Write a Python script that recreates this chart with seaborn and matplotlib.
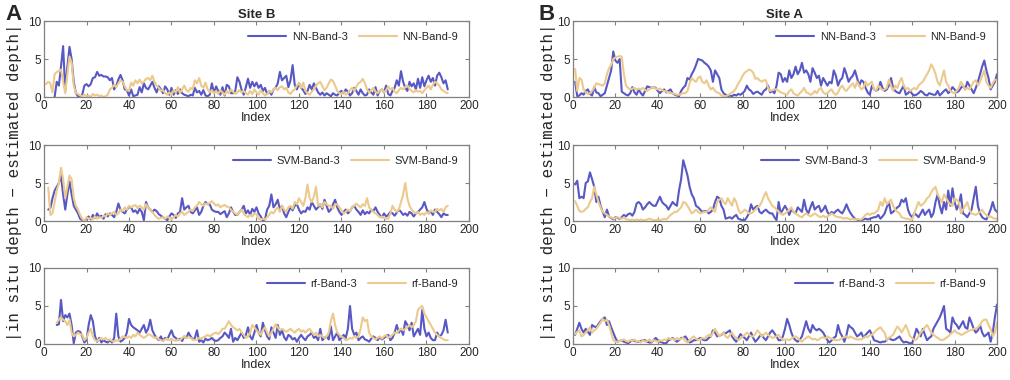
import numpy as np
import pandas as pd
import matplotlib
matplotlib.use("Agg")
import matplotlib.pyplot as plt
import seaborn as sns

nan = np.nan

# ---------------- data ----------------
index_B = list(range(1, 191))
index_A = list(range(1, 201))

# Site B
nn3_B = [nan, nan, nan, nan, 0.0, 2.0, 1.5, 4.0, 6.7, 0.8,
         4.0, 6.6, 5.0, 2.0, 0.5, 0.1, 0.0, 0.3, 1.5, 1.7,
         1.4, 1.7, 2.5, 2.6, 3.3, 2.8, 2.9, 2.7, 2.7, 2.6,
         2.2, 2.5, 1.0, 1.5, 2.3, 2.9, 2.2, 1.0, 0.9, 0.2,
         1.0, 0.1, 0.2, 0.3, 1.3, 0.6, 1.8, 1.2, 1.0, 1.5,
         2.0, 1.2, 0.6, 1.4, 1.0, 0.5, 1.4, 1.0, 0.3, 1.2,
         0.3, 0.9, 0.4, 1.0, 0.5, 0.3, 0.2, 0.1, 0.3, 0.2,
         1.2, 0.6, 0.8, 0.3, 0.9, 0.2, 0.1, 0.3, 1.8, 0.5,
         1.4, 0.8, 0.3, 1.3, 0.2, 1.6, 1.4, 0.5, 0.5, 0.8,
         2.6, 2.0, 0.9, 0.3, 1.3, 2.4, 1.2, 2.0, 1.4, 1.9,
         1.2, 1.6, 0.8, 1.2, 0.4, 0.8, 0.3, 1.0, 1.2, 1.8,
         3.3, 2.2, 2.5, 2.8, 1.3, 2.2, 4.2, 1.6, 1.0, 1.8,
         1.2, 0.9, 0.4, 0.8, 1.6, 1.0, 1.8, 1.2, 0.6, 0.3,
         0.6, 0.2, 0.5, 0.3, 0.1, 0.5, 0.3, 0.2, 0.6, 0.8,
         0.5, 1.0, 0.7, 0.2, 0.5, 1.2, 0.8, 0.3, 1.0, 0.5,
         0.2, 0.3, 1.0, 0.6, 0.3, 1.3, 0.2, 0.8, 1.0, 0.6,
         1.5, 0.4, 0.2, 0.8, 1.2, 2.2, 1.5, 3.4, 2.0, 1.2,
         0.8, 2.0, 1.4, 1.8, 1.0, 2.4, 1.2, 2.6, 1.4, 2.2,
         2.8, 2.0, 2.5, 1.5, 2.8, 3.2, 2.6, 1.8, 2.2, 1.0]
nn9_B = [1.7, 2.0, 1.8, 0.6, 3.0, 3.3, 3.4, 3.6, 2.0, 0.5,
         3.0, 5.3, 4.5, 1.5, 0.5, 0.4, 0.2, 0.1, 0.3, 0.1,
         0.2, 0.0, 0.4, 0.2, 0.3, 0.1, 0.2, 0.0, 0.1, 0.3,
         1.0, 1.2, 1.6, 1.3, 1.8, 2.2, 2.0, 1.4, 0.9, 0.8,
         1.9, 1.5, 2.2, 1.8, 2.3, 1.8, 2.0, 2.4, 2.5, 2.2,
         2.8, 2.0, 1.5, 1.2, 0.8, 0.9, 0.5, 0.3, 0.6, 0.3,
         0.9, 0.6, 1.3, 0.5, 1.0, 1.5, 0.9, 0.7, 1.2, 1.0,
         2.2, 1.8, 2.5, 1.5, 1.2, 1.9, 1.0, 0.6, 0.9, 0.5,
         0.8, 0.4, 0.9, 0.6, 0.3, 0.8, 0.5, 1.0, 0.7, 0.4,
         0.6, 0.9, 0.6, 0.8, 0.5, 0.3, 0.8, 0.4, 1.0, 0.6,
         0.3, 0.9, 0.5, 0.2, 0.4, 0.8, 0.6, 1.0, 1.2, 0.9,
         1.3, 1.4, 1.0, 1.2, 0.6, 0.4, 0.8, 1.0, 1.5, 1.8,
         1.2, 1.9, 0.8, 0.5, 0.3, 0.7, 1.0, 1.5, 1.8, 2.0,
         1.4, 0.9, 1.2, 1.8, 2.3, 2.1, 1.5, 0.8, 0.5, 0.4,
         0.7, 0.3, 0.5, 0.9, 1.2, 0.8, 1.4, 1.8, 2.0, 2.4,
         1.8, 1.0, 0.6, 0.9, 1.2, 0.7, 0.5, 0.8, 1.0, 0.6,
         0.9, 1.4, 1.0, 1.2, 0.7, 0.5, 0.9, 1.2, 1.0, 1.3,
         1.5, 1.1, 0.8, 0.6, 0.9, 0.7, 0.8, 0.5, 0.9, 1.2,
         1.5, 1.0, 1.6, 2.0, 1.8, 1.5, 1.0, 0.8, 0.6, 0.5]
svm3_B = [nan, 1.5, 1.7, 3.0, 4.0, 4.5, 5.0, 6.0, 3.5, 1.5,
          3.5, 5.2, 3.5, 2.0, 1.5, 1.0, 0.3, 0.1, 0.0, 0.3,
          0.6, 0.2, 0.8, 0.4, 1.0, 0.5, 0.7, 0.3, 0.9, 0.6,
          1.0, 0.8, 0.5, 1.2, 2.3, 1.5, 1.2, 1.0, 1.5, 1.8,
          1.8, 1.2, 1.4, 1.0, 1.6, 1.2, 0.1, 2.5, 1.8, 1.5,
          1.2, 1.5, 1.3, 0.9, 0.7, 0.5, 0.3, 0.1, 0.6, 1.0,
          0.8, 0.4, 1.0, 1.2, 3.0, 1.5, 1.8, 2.0, 1.2, 1.0,
          1.4, 1.8, 0.8, 1.2, 2.0, 2.5, 2.2, 2.2, 1.5, 1.3,
          1.2, 1.2, 0.9, 1.1, 1.3, 0.5, 1.0, 1.8, 1.2, 0.8,
          0.8, 1.2, 1.5, 2.0, 1.0, 1.4, 0.8, 1.6, 1.2, 1.8,
          1.0, 0.6, 0.1, 0.2, 1.5, 2.0, 3.5, 1.8, 2.2, 2.8,
          1.5, 2.0, 1.0, 0.5, 1.2, 1.8, 1.4, 2.0, 2.2, 1.5,
          1.0, 1.3, 1.2, 1.8, 1.5, 2.5, 2.0, 1.5, 1.8, 2.2,
          1.6, 2.8, 2.0, 1.2, 1.5, 2.2, 2.8, 1.8, 1.2, 0.8,
          1.2, 1.5, 1.0, 1.3, 1.8, 2.0, 1.5, 1.2, 0.8, 1.4,
          0.9, 1.2, 1.0, 1.5, 1.3, 1.8, 1.2, 0.8, 0.5, 1.0,
          0.6, 0.8, 1.2, 1.0, 0.7, 1.1, 1.5, 1.2, 0.8, 1.0,
          0.7, 1.2, 1.0, 0.6, 1.0, 1.2, 1.5, 1.8, 2.5, 1.6,
          1.0, 1.3, 0.8, 1.5, 1.2, 0.9, 0.5, 1.0, 0.8, 0.8]
svm9_B = [nan, 4.4, 0.8, 1.0, 2.5, 4.0, 5.0, 7.0, 5.5, 3.0,
          4.5, 6.0, 5.5, 3.0, 2.0, 1.5, 0.8, 0.3, 0.0, 0.5,
          0.3, 0.4, 0.2, 0.6, 0.3, 0.5, 0.4, 0.7, 0.6, 1.0,
          0.8, 1.0, 1.2, 0.8, 1.0, 1.5, 1.3, 1.8, 1.5, 2.0,
          1.8, 2.0, 2.1, 1.7, 2.0, 1.8, 1.5, 2.2, 1.8, 1.5,
          1.2, 0.8, 0.5, 0.3, 0.4, 0.5, 0.3, 0.6, 0.4, 0.2,
          0.5, 0.8, 0.6, 1.0, 1.2, 0.8, 1.0, 1.2, 1.5, 1.3,
          1.8, 2.0, 2.5, 2.2, 2.0, 2.3, 2.2, 2.4, 2.6, 2.3,
          2.0, 2.2, 1.8, 2.0, 2.1, 1.9, 1.8, 1.5, 1.2, 1.0,
          0.8, 1.2, 1.5, 1.0, 0.7, 0.5, 0.8, 0.6, 1.0, 0.9,
          0.3, 0.2, 0.3, 0.2, 0.5, 0.8, 1.2, 1.0, 1.5, 1.8,
          1.2, 2.0, 1.5, 1.2, 1.8, 2.0, 1.6, 2.5, 2.2, 3.0,
          2.5, 2.0, 3.0, 4.8, 3.0, 2.5, 3.2, 4.5, 2.0, 2.2,
          1.8, 2.5, 2.2, 2.0, 2.0, 1.6, 2.2, 2.2, 1.8, 1.4,
          1.0, 1.2, 1.5, 1.3, 1.8, 2.0, 2.3, 2.0, 1.8, 2.2,
          2.0, 3.0, 1.8, 1.5, 1.2, 1.0, 0.8, 0.5, 0.6, 0.4,
          0.3, 0.3, 1.0, 2.0, 1.5, 1.2, 1.5, 2.5, 3.5, 5.0,
          3.0, 2.0, 1.5, 1.2, 1.0, 1.2, 0.8, 1.0, 0.8, 1.2,
          1.0, 1.4, 1.2, 1.2, 1.6, 1.4, 1.6, 1.2, 1.8, 2.0]
rf3_B = [nan, nan, nan, nan, nan, 2.5, 2.6, 5.8, 3.0, 3.8,
         3.5, 4.0, 2.5, 0.1, 1.5, 1.7, 1.6, 1.0, 0.2, 0.5,
         2.5, 3.8, 3.0, 1.0, 0.3, 0.8, 0.2, 0.5, 0.3, 0.2,
         0.5, 0.2, 0.8, 4.0, 1.0, 0.3, 0.5, 0.8, 1.5, 3.3,
         2.5, 2.2, 2.0, 1.8, 1.5, 2.0, 2.5, 1.5, 2.0, 3.2,
         1.8, 1.2, 0.8, 0.5, 1.0, 0.4, 0.8, 0.6, 1.2, 1.8,
         1.0, 0.8, 0.5, 0.7, 0.4, 1.0, 0.8, 1.5, 1.0, 0.6,
         0.8, 1.8, 0.3, 0.5, 0.2, 0.7, 0.5, 0.6, 0.8, 0.5,
         0.4, 0.5, 0.8, 1.0, 1.5, 1.2, 0.8, 2.0, 0.3, 0.8,
         0.5, 1.0, 1.5, 0.8, 1.2, 2.2, 1.0, 0.6, 1.5, 2.5,
         1.5, 1.0, 2.8, 1.8, 1.0, 0.6, 2.2, 1.5, 0.8, 2.5,
         1.2, 1.8, 0.9, 0.5, 1.2, 1.0, 0.6, 0.8, 0.3, 0.8,
         1.2, 0.8, 0.5, 1.0, 1.2, 1.5, 0.8, 1.0, 0.5, 2.0,
         0.5, 0.8, 1.0, 0.6, 2.3, 0.5, 1.0, 1.5, 0.5, 0.8,
         1.2, 0.8, 2.0, 5.0, 2.0, 1.2, 1.5, 0.5, 0.8, 1.0,
         0.6, 0.5, 0.3, 0.7, 1.0, 0.8, 0.5, 0.9, 0.6, 0.8,
         1.0, 1.2, 0.5, 0.8, 1.5, 2.5, 1.5, 2.0, 1.2, 3.0,
         2.5, 1.8, 2.8, 1.0, 1.5, 2.0, 1.2, 4.5, 2.0, 1.0,
         1.5, 0.8, 0.5, 0.5, 1.5, 1.0, 1.2, 1.8, 3.2, 1.5]
rf9_B = [nan, nan, nan, nan, nan, 2.8, 3.2, 3.5, 3.2, 3.0,
         2.5, 3.2, 1.5, 1.0, 1.2, 1.5, 1.3, 1.2, 0.5, 0.8,
         1.5, 2.0, 1.0, 0.5, 0.4, 0.6, 0.8, 0.6, 0.8, 0.5,
         0.6, 0.4, 0.3, 0.5, 0.4, 0.7, 1.0, 0.9, 0.8, 1.0,
         0.8, 1.2, 1.0, 1.5, 1.2, 1.0, 0.8, 1.0, 1.3, 1.2,
         1.0, 0.8, 0.9, 0.6, 0.5, 0.4, 0.6, 0.7, 0.5, 0.7,
         0.5, 0.4, 0.6, 0.5, 0.8, 1.0, 0.8, 0.9, 0.8, 0.6,
         0.5, 0.6, 0.8, 0.7, 0.9, 1.0, 1.2, 1.0, 1.2, 1.4,
         1.5, 1.3, 1.6, 2.0, 2.0, 2.5, 3.0, 2.5, 2.2, 2.0,
         1.8, 2.0, 1.5, 1.2, 0.8, 1.0, 1.5, 2.5, 2.2, 1.8,
         1.5, 1.2, 1.8, 2.2, 1.5, 1.0, 1.5, 2.0, 2.6, 2.2,
         1.8, 2.0, 1.8, 1.6, 1.8, 2.0, 1.7, 1.5, 1.8, 2.0,
         1.6, 1.8, 1.5, 1.8, 2.0, 1.6, 1.2, 1.5, 1.0, 1.2,
         1.0, 0.8, 1.0, 1.5, 3.0, 4.0, 2.5, 1.5, 1.2, 1.0,
         0.8, 0.5, 0.6, 0.8, 0.7, 1.0, 0.8, 1.0, 2.0, 3.5,
         3.0, 3.2, 1.5, 1.0, 0.8, 0.6, 0.8, 1.0, 0.7, 1.0,
         1.2, 0.8, 1.0, 1.2, 1.5, 1.4, 1.8, 2.0, 1.8, 2.0,
         2.2, 2.5, 2.2, 2.5, 3.0, 4.5, 4.8, 5.0, 4.0, 3.5,
         3.0, 2.5, 2.0, 1.5, 1.2, 1.0, 0.8, 0.6, 0.5, 0.5]

# Site A
nn3_A = [2.0, 0.1, 0.2, 0.5, 0.3, 0.8, 1.0, 0.4, 0.2, 1.3,
         0.6, 0.5, 0.1, 0.3, 0.5, 1.5, 2.5, 3.5, 6.0, 4.8,
         4.5, 5.0, 0.7, 0.5, 0.3, 0.2, 0.5, 1.3, 0.6, 0.3,
         1.0, 0.5, 0.2, 0.8, 1.4, 1.3, 1.2, 1.3, 1.2, 0.8,
         0.5, 0.8, 1.0, 0.6, 0.8, 1.0, 0.5, 0.3, 0.2, 0.1,
         0.8, 1.2, 1.5, 2.5, 2.3, 3.0, 3.5, 4.2, 5.0, 4.9,
         4.8, 4.5, 4.3, 4.0, 3.5, 2.0, 3.5, 3.0, 2.5, 1.0,
         0.5, 0.3, 0.1, 0.2, 0.1, 0.3, 0.2, 0.4, 0.3, 0.5,
         0.8, 1.5, 1.0, 0.8, 0.4, 0.6, 0.7, 0.5, 0.3, 0.8,
         1.0, 1.5, 0.6, 0.8, 0.5, 1.5, 3.2, 3.0, 2.0, 2.5,
         2.0, 3.5, 2.5, 3.0, 4.0, 3.0, 3.5, 4.5, 3.2, 3.5,
         3.0, 2.0, 3.8, 3.2, 2.5, 2.8, 1.5, 2.5, 2.0, 1.5,
         2.0, 1.8, 3.5, 2.8, 1.5, 2.2, 2.5, 3.8, 3.0, 2.0,
         2.5, 2.8, 3.5, 2.5, 1.5, 2.2, 2.0, 1.2, 0.6, 0.3,
         1.5, 1.0, 0.8, 1.0, 2.0, 1.2, 0.8, 1.0, 1.5, 2.5,
         1.2, 0.8, 0.6, 0.5, 1.0, 1.5, 0.3, 0.5, 0.8, 0.4,
         0.2, 0.3, 0.5, 0.8, 0.6, 0.3, 0.2, 0.5, 0.4, 0.3,
         0.3, 0.8, 0.2, 0.5, 0.8, 1.0, 0.5, 0.8, 1.3, 1.0,
         0.6, 0.8, 1.2, 1.5, 1.0, 2.0, 1.5, 1.0, 0.5, 1.2,
         2.0, 3.0, 4.0, 4.8, 3.5, 2.5, 1.0, 1.5, 2.0, 3.0]
nn9_A = [3.7, 0.8, 2.5, 2.3, 1.0, 0.6, 0.4, 0.5, 0.8, 1.2,
         1.8, 1.7, 1.6, 1.5, 1.8, 3.0, 3.8, 4.2, 5.0, 5.2,
         5.3, 5.4, 5.3, 3.0, 1.5, 1.2, 1.0, 1.1, 1.2, 1.0,
         1.1, 1.0, 1.2, 0.9, 0.8, 1.0, 1.2, 1.3, 1.1, 1.0,
         1.1, 0.9, 0.8, 0.7, 0.6, 0.5, 0.5, 0.4, 0.3, 0.3,
         0.4, 0.5, 0.5, 0.8, 1.8, 2.5, 2.2, 2.0, 2.5, 2.7,
         2.0, 1.8, 2.2, 1.5, 1.0, 1.2, 0.8, 0.6, 0.5, 0.2,
         0.1, 0.1, 0.2, 0.4, 0.6, 0.8, 1.2, 1.8, 2.2, 2.8,
         3.2, 3.4, 3.6, 3.5, 3.2, 2.4, 2.5, 2.2, 2.0, 2.2,
         2.2, 1.2, 0.8, 0.9, 1.0, 1.0, 0.8, 0.6, 0.5, 0.4,
         0.3, 0.8, 1.0, 0.5, 0.3, 0.2, 0.5, 0.8, 1.2, 0.6,
         0.5, 0.3, 0.4, 0.8, 0.5, 1.0, 1.2, 0.6, 0.4, 0.5,
         0.8, 1.0, 0.5, 0.3, 0.6, 1.2, 1.5, 1.0, 0.8, 1.2,
         1.5, 1.8, 1.2, 2.0, 1.5, 1.0, 1.2, 2.0, 1.5, 1.8,
         2.0, 1.0, 0.8, 1.5, 1.2, 0.9, 1.0, 1.2, 2.3, 1.5,
         0.8, 1.5, 1.2, 2.0, 2.5, 1.5, 1.0, 1.2, 0.8, 1.0,
         1.2, 1.0, 1.5, 1.8, 2.0, 2.5, 3.0, 3.5, 4.3, 3.8,
         3.0, 2.0, 1.5, 2.5, 3.5, 2.0, 1.5, 0.8, 0.6, 0.5,
         0.8, 1.2, 2.0, 1.5, 1.0, 1.2, 1.0, 1.5, 2.0, 2.2,
         1.5, 2.0, 2.8, 3.5, 2.0, 1.5, 1.2, 1.8, 2.3, 2.2]
svm3_A = [4.8, 5.3, 3.0, 3.2, 3.0, 5.0, 5.2, 6.4, 5.5, 4.5,
          2.5, 3.2, 2.0, 1.2, 0.5, 1.5, 0.6, 0.4, 0.2, 0.5,
          0.4, 0.3, 0.5, 0.8, 0.6, 0.9, 1.0, 0.7, 1.2, 2.3,
          2.5, 2.2, 1.5, 1.8, 2.2, 2.5, 2.2, 2.0, 2.0, 2.6,
          3.2, 2.5, 2.2, 2.0, 1.5, 2.0, 2.5, 2.2, 2.0, 4.0,
          5.5, 8.0, 7.0, 6.0, 4.5, 3.5, 3.0, 2.0, 1.8, 1.5,
          1.2, 1.3, 1.3, 1.0, 1.2, 1.5, 2.5, 3.2, 3.0, 2.0,
          1.5, 0.3, 0.4, 0.5, 0.3, 0.6, 0.8, 0.3, 0.2, 0.1,
          0.1, 0.5, 1.0, 2.2, 1.5, 1.8, 2.0, 1.2, 1.0, 1.3,
          1.5, 1.2, 1.0, 1.0, 0.5, 0.1, 2.5, 1.0, 1.5, 2.0,
          1.5, 0.8, 1.5, 1.2, 1.0, 1.8, 1.5, 1.2, 2.8, 1.5,
          1.0, 1.8, 2.5, 1.5, 1.8, 2.0, 1.2, 1.5, 2.0, 1.2,
          0.8, 1.2, 1.0, 1.3, 1.5, 1.2, 1.0, 1.5, 2.2, 1.5,
          1.0, 0.6, 0.3, 0.2, 0.1, 0.1, 0.2, 0.3, 0.2, 0.3,
          0.4, 0.5, 0.5, 0.8, 0.3, 0.6, 1.0, 1.8, 2.5, 1.0,
          1.2, 1.5, 1.8, 2.0, 2.8, 2.5, 3.0, 1.5, 0.8, 0.5,
          1.0, 0.8, 0.5, 1.0, 1.5, 0.8, 1.2, 1.5, 0.5, 1.0,
          2.5, 3.5, 2.0, 1.0, 2.5, 1.5, 4.0, 2.0, 4.3, 2.5,
          1.5, 2.2, 3.5, 1.0, 0.8, 0.5, 1.0, 1.5, 3.0, 4.5,
          2.0, 1.0, 0.5, 0.3, 0.2, 0.8, 1.5, 2.5, 1.5, 1.2]
svm9_A = [2.6, 2.0, 1.3, 1.2, 1.3, 1.6, 1.8, 2.5, 3.0, 4.5,
          3.5, 2.5, 1.8, 1.2, 1.0, 0.8, 0.6, 0.5, 0.3, 0.4,
          0.5, 0.4, 0.3, 0.5, 0.2, 0.2, 0.1, 0.2, 0.1, 0.2,
          0.1, 0.2, 0.1, 0.1, 0.2, 0.3, 0.2, 0.1, 0.1, 0.2,
          0.1, 0.2, 0.3, 0.2, 0.5, 0.8, 1.0, 1.2, 1.2, 1.5,
          1.8, 2.5, 2.4, 2.0, 1.5, 1.0, 1.2, 1.5, 1.2, 1.0,
          1.1, 1.2, 1.2, 1.5, 1.8, 1.5, 1.2, 2.5, 2.8, 3.0,
          2.5, 2.2, 3.0, 2.5, 2.0, 3.0, 2.5, 1.5, 1.0, 1.2,
          1.5, 1.3, 1.0, 1.0, 1.2, 1.5, 1.8, 2.0, 2.5, 3.2,
          3.8, 3.0, 2.5, 2.0, 1.8, 1.5, 1.2, 1.0, 0.8, 1.0,
          1.2, 1.5, 1.8, 1.2, 1.0, 0.8, 0.6, 0.5, 0.8, 1.0,
          0.8, 0.6, 0.8, 1.0, 0.8, 0.6, 0.5, 0.7, 0.5, 0.6,
          0.8, 1.0, 0.8, 0.6, 0.5, 0.5, 0.4, 0.3, 0.4, 0.3,
          0.2, 0.3, 0.2, 0.3, 0.2, 0.2, 0.5, 0.8, 1.0, 0.8,
          1.0, 1.0, 1.2, 1.5, 2.5, 2.0, 3.0, 2.2, 2.5, 2.8,
          2.0, 1.5, 1.2, 1.0, 0.5, 0.4, 0.3, 0.3, 0.2, 0.2,
          1.0, 1.8, 2.5, 2.0, 2.2, 2.5, 3.0, 3.2, 3.8, 4.2,
          4.5, 3.5, 3.0, 2.5, 3.5, 3.0, 2.5, 2.2, 2.0, 3.0,
          2.8, 2.5, 1.0, 1.5, 2.0, 2.5, 1.5, 1.0, 0.9, 0.8,
          1.0, 1.2, 1.5, 1.0, 0.8, 0.5, 0.6, 0.4, 0.3, 0.3]
rf3_A = [1.2, 2.0, 2.8, 2.0, 1.5, 2.0, 1.6, 1.2, 2.5, 2.3,
         2.2, 2.6, 3.0, 3.3, 3.5, 2.5, 3.0, 2.2, 1.5, 0.8,
         0.3, 0.4, 0.5, 0.3, 0.2, 0.1, 0.3, 0.5, 0.4, 0.3,
         0.3, 0.4, 0.5, 0.5, 0.3, 0.2, 0.2, 0.5, 0.8, 0.5,
         0.3, 0.2, 0.1, 0.1, 0.5, 0.6, 0.8, 0.5, 0.3, 0.5,
         0.8, 0.8, 1.0, 0.6, 0.2, 0.3, 0.5, 0.5, 0.6, 0.8,
         0.6, 0.5, 0.5, 0.8, 1.0, 1.8, 1.5, 1.0, 1.1, 1.2,
         1.5, 1.4, 1.6, 1.8, 1.0, 0.6, 0.3, 0.8, 1.3, 1.0,
         0.8, 0.5, 1.0, 1.5, 0.8, 0.3, 0.6, 1.0, 1.2, 0.8,
         0.5, 1.0, 1.5, 1.8, 1.4, 1.0, 0.5, 0.5, 1.0, 2.0,
         3.3, 2.5, 1.5, 0.8, 0.5, 0.3, 0.6, 1.0, 2.0, 3.0,
         2.0, 1.5, 2.5, 2.0, 1.8, 2.0, 1.8, 1.5, 1.0, 0.5,
         0.2, 0.5, 0.8, 1.0, 2.5, 1.5, 1.0, 0.3, 1.2, 2.5,
         2.2, 2.0, 1.5, 1.0, 1.2, 1.5, 0.8, 1.2, 1.5, 1.8,
         1.2, 0.5, 0.4, 0.3, 0.2, 0.3, 0.3, 0.5, 0.8, 0.6,
         0.5, 0.6, 0.8, 1.0, 0.5, 0.2, 0.3, 0.2, 0.1, 0.1,
         1.0, 2.0, 1.5, 1.0, 2.0, 1.2, 0.5, 0.8, 1.0, 2.0,
         2.5, 3.0, 3.5, 4.2, 5.0, 2.0, 1.8, 1.5, 3.5, 2.8,
         2.5, 2.0, 2.5, 3.0, 2.2, 2.0, 3.5, 2.8, 2.0, 1.5,
         1.8, 2.5, 1.5, 1.0, 1.2, 1.5, 0.3, 1.5, 3.5, 5.2]
rf9_A = [1.3, 1.6, 1.8, 1.0, 1.2, 1.5, 1.8, 2.2, 1.5, 1.8,
         2.0, 2.4, 2.8, 3.3, 3.0, 3.2, 2.5, 1.5, 0.5, 0.3,
         0.3, 0.4, 0.5, 0.6, 0.4, 0.3, 0.5, 0.4, 0.6, 0.3,
         0.4, 0.2, 0.5, 0.3, 0.4, 0.6, 0.3, 0.5, 0.4, 0.3,
         0.5, 0.4, 0.6, 0.5, 0.8, 0.6, 0.7, 0.5, 0.8, 0.6,
         0.7, 0.8, 0.4, 0.2, 0.5, 0.8, 1.0, 0.7, 0.5, 0.6,
         0.8, 0.7, 1.0, 1.2, 1.0, 1.5, 2.0, 1.5, 1.0, 1.3,
         1.5, 1.0, 0.8, 1.2, 1.5, 1.0, 0.8, 0.5, 0.7, 1.0,
         1.2, 1.5, 1.3, 1.0, 1.0, 1.3, 1.8, 1.5, 1.0, 1.2,
         1.5, 1.2, 1.0, 0.8, 0.9, 1.0, 1.2, 0.8, 0.5, 0.6,
         0.6, 0.5, 0.7, 0.9, 1.0, 0.8, 0.5, 0.3, 0.6, 0.8,
         1.0, 0.8, 0.6, 0.7, 0.5, 0.6, 0.8, 0.9, 0.7, 1.0,
         0.8, 0.7, 0.6, 0.5, 0.5, 0.6, 0.8, 0.9, 1.0, 0.8,
         1.0, 0.8, 0.7, 0.6, 0.6, 0.6, 0.8, 1.0, 0.9, 1.2,
         1.2, 1.5, 1.8, 2.0, 2.2, 1.8, 1.5, 0.5, 0.8, 1.0,
         1.2, 1.8, 2.3, 2.0, 1.5, 2.0, 2.5, 1.8, 1.0, 0.8,
         0.5, 0.6, 1.0, 1.5, 1.8, 2.2, 2.5, 2.0, 1.5, 1.2,
         1.0, 0.8, 0.6, 0.5, 0.6, 0.8, 1.0, 1.3, 1.5, 1.8,
         1.5, 1.4, 1.2, 1.3, 1.5, 1.6, 1.8, 1.8, 2.0, 2.0,
         2.2, 2.5, 3.0, 3.2, 3.2, 2.5, 2.0, 1.0, 1.5, 2.8]

x_ticks = list(range(0, 201, 20))
y_ticks = [0, 5, 10]
site_titles = ["Site B", "Site A"]
panel_letters = ["A", "B"]
y_label = "|in situ depth \u2212 estimated depth|"

# ---------------- style ----------------
sns.set_style("white")
plt.rcParams['font.family'] = ['Liberation Sans', 'DejaVu Sans']

BLUE = '#5858C4'
TAN = '#ECC98C'
SPINE = '#808080'

W, H = 1010, 380
fig = plt.figure(figsize=(W / 100, H / 100), dpi=100)


def axpos(left, right, top, bottom):
    return [left / W, 1 - bottom / H, (right - left) / W, (bottom - top) / H]


rows_px = [(21, 97), (145, 221), (268, 344)]
cols_px = [(44, 469), (573, 997)]

panels = [
    (index_B, [(nn3_B, nn9_B, 'NN-Band-3', 'NN-Band-9'),
               (svm3_B, svm9_B, 'SVM-Band-3', 'SVM-Band-9'),
               (rf3_B, rf9_B, 'rf-Band-3', 'rf-Band-9')]),
    (index_A, [(nn3_A, nn9_A, 'NN-Band-3', 'NN-Band-9'),
               (svm3_A, svm9_A, 'SVM-Band-3', 'SVM-Band-9'),
               (rf3_A, rf9_A, 'rf-Band-3', 'rf-Band-9')]),
]

for c, (idx, rowsdata) in enumerate(panels):
    for r, (b3, b9, l3, l9) in enumerate(rowsdata):
        ax = fig.add_axes(axpos(cols_px[c][0], cols_px[c][1], *rows_px[r]))
        df = pd.DataFrame({'Index': idx, 'v3': b3, 'v9': b9})
        d3 = df[['Index', 'v3']].dropna()
        d9 = df[['Index', 'v9']].dropna()
        sns.lineplot(data=d3, x='Index', y='v3', ax=ax, color=BLUE,
                     linewidth=1.5, label=l3, estimator=None)
        sns.lineplot(data=d9, x='Index', y='v9', ax=ax, color=TAN,
                     linewidth=1.5, label=l9, estimator=None)
        ax.set_xlim(0, 200)
        ax.set_ylim(0, 10)
        ax.set_xticks(x_ticks)
        ax.set_yticks(y_ticks)
        ax.set_xlabel('Index', fontsize=9, labelpad=0, color='#262626')
        ax.set_ylabel('')
        ax.tick_params(direction='in', top=True, right=True, bottom=True, left=True,
                       length=3, width=0.8, labelsize=8.5, pad=2,
                       color=SPINE, labelcolor='#262626')
        for s in ax.spines.values():
            s.set_visible(True)
            s.set_color(SPINE)
            s.set_linewidth(0.9)
        ax.legend(loc='upper right', ncol=2, frameon=False, fontsize=8,
                  handlelength=3.4, handletextpad=0.5, columnspacing=1.0,
                  borderaxespad=0.6)
        if r == 0:
            ax.set_title(site_titles[c], fontsize=9.5, fontweight='bold', pad=2)

fig.text(5 / W, 1 - 4 / H, panel_letters[0], fontsize=16, fontweight='bold',
         ha='left', va='top')
fig.text(539 / W, 1 - 4 / H, panel_letters[1], fontsize=16, fontweight='bold',
         ha='left', va='top')
for xpx in (15, 549):
    fig.text(xpx / W, 1 - 182 / H, y_label, rotation=90, ha='center', va='center',
             fontsize=11.5, family=['Liberation Mono', 'DejaVu Sans Mono'],
             color='#262626')

fig.savefig('out.png', dpi=100)
